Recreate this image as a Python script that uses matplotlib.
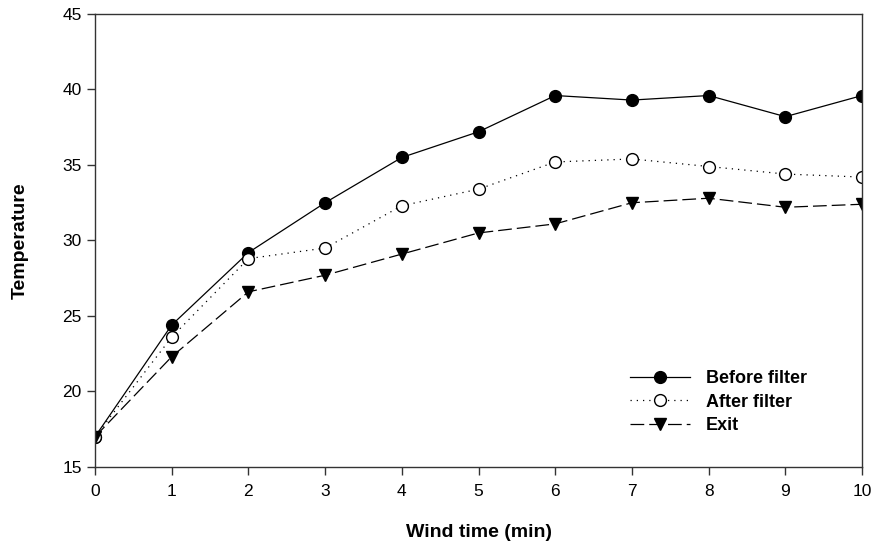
import matplotlib
matplotlib.use("Agg")
from matplotlib import pyplot as plt

plt.rcParams['font.family'] = ['Liberation Sans', 'DejaVu Sans']

# data
wind_time = [0, 1, 2, 3, 4, 5, 6, 7, 8, 9, 10]
before_filter = [17.0, 24.4, 29.2, 32.5, 35.5, 37.2, 39.6, 39.3, 39.6, 38.2, 39.6]
after_filter = [17.0, 23.6, 28.8, 29.5, 32.3, 33.4, 35.2, 35.4, 34.9, 34.4, 34.2]
exit_temp = [17.0, 22.3, 26.6, 27.7, 29.1, 30.5, 31.1, 32.5, 32.8, 32.2, 32.4]

fig = plt.figure(figsize=(8.77, 5.49), dpi=100)
ax = fig.add_axes([0.1083, 0.1494, 0.8747, 0.8251])

ax.plot(wind_time, before_filter, color="black", lw=0.9, ls="-",
        marker="o", ms=8.5, mfc="black", mec="black", label="Before filter")
ax.plot(wind_time, after_filter, color="black", lw=0.9, ls=(0, (1, 4)),
        marker="o", ms=8.5, mfc="white", mec="black", mew=1.0, label="After filter")
ax.plot(wind_time, exit_temp, color="black", lw=0.9, ls=(0, (11, 4)),
        marker="v", ms=9, mfc="black", mec="black", label="Exit")

ax.set_xlim(0, 10)
ax.set_ylim(15, 45)
ax.set_xticks(range(0, 11))
ax.set_yticks(range(15, 50, 5))
for s in ax.spines.values():
    s.set_color("#333333")
    s.set_linewidth(1.0)
ax.tick_params(axis="both", direction="out", length=5.5, width=1.0,
               color="#333333", labelsize=12.5)
ax.tick_params(axis="y", pad=4)
ax.tick_params(axis="x", pad=6.5)
ax.tick_params(top=False, right=False)

ax.set_xlabel("Wind time (min)", fontsize=14, fontweight="bold", labelpad=18.5)
ax.set_ylabel("Temperature", fontsize=14, fontweight="bold", labelpad=24)

leg = ax.legend(loc="upper left", bbox_to_anchor=(0.6975, 0.214), frameon=False,
                prop={"weight": "bold", "size": 13}, handlelength=3.3,
                handletextpad=0.9, labelspacing=0.37, borderpad=0, borderaxespad=0)

fig.savefig("out.png", dpi=100)
